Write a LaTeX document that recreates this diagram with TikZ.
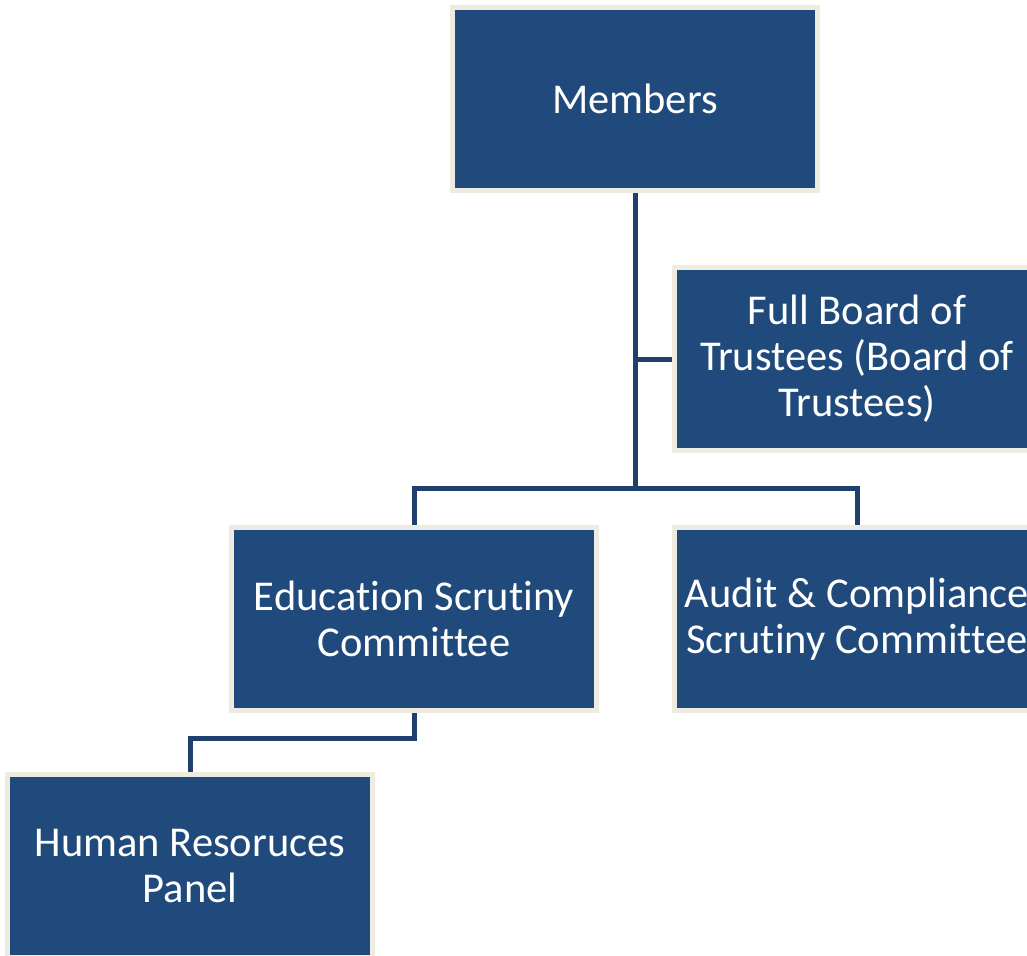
\documentclass[tikz,border=0pt]{standalone}
\usepackage{fontspec}
\setmainfont{Carlito}[Ligatures=NoCommon]
\usepackage{xcolor}
\usetikzlibrary{positioning, backgrounds}

\definecolor{unitblue}{HTML}{204A7C}
\definecolor{unitedge}{HTML}{EEEBE0}
\definecolor{linkblue}{HTML}{1F3F6C}

\begin{document}
\begin{tikzpicture}[
    x=1pt, y=-1pt,
    unit/.style={rectangle, draw=unitedge, line width=5pt, fill=unitblue, text=white, minimum width=365pt, minimum height=183pt, align=center, font=\fontsize{42.5}{46}\selectfont},
    link/.style={draw=linkblue, line width=5pt}
]

% Frame
\useasboundingbox (0,0) rectangle (1027,955);

% Units
\node[unit] (members) at (635, 99) {Members};
\node[unit] (board) at (857, 359) {Full Board of\\Trustees (Board of\\Trustees)};
\node[unit] (edu) at (414, 619) {Education Scrutiny\\Committee};
\node[unit] (audit) at (857, 619) {Audit \& Compliance\\Scrutiny Committee};
\node[unit] (hr) at (190, 866) {Human Resoruces\\Panel};

\coordinate (split) at (635, 488);

% Links
\begin{scope}[on background layer]
\fill[white] (0,0) rectangle (1027,955);
\draw[link] (members.south) -- (split);
\draw[link] (members.south |- board.west) -- (board.west);
\draw[link] (edu.north) |- (split) -| (audit.north);
\draw[link] (edu.south) -- ++(0,25) -| (hr.north);
\end{scope}

\end{tikzpicture}
\end{document}
